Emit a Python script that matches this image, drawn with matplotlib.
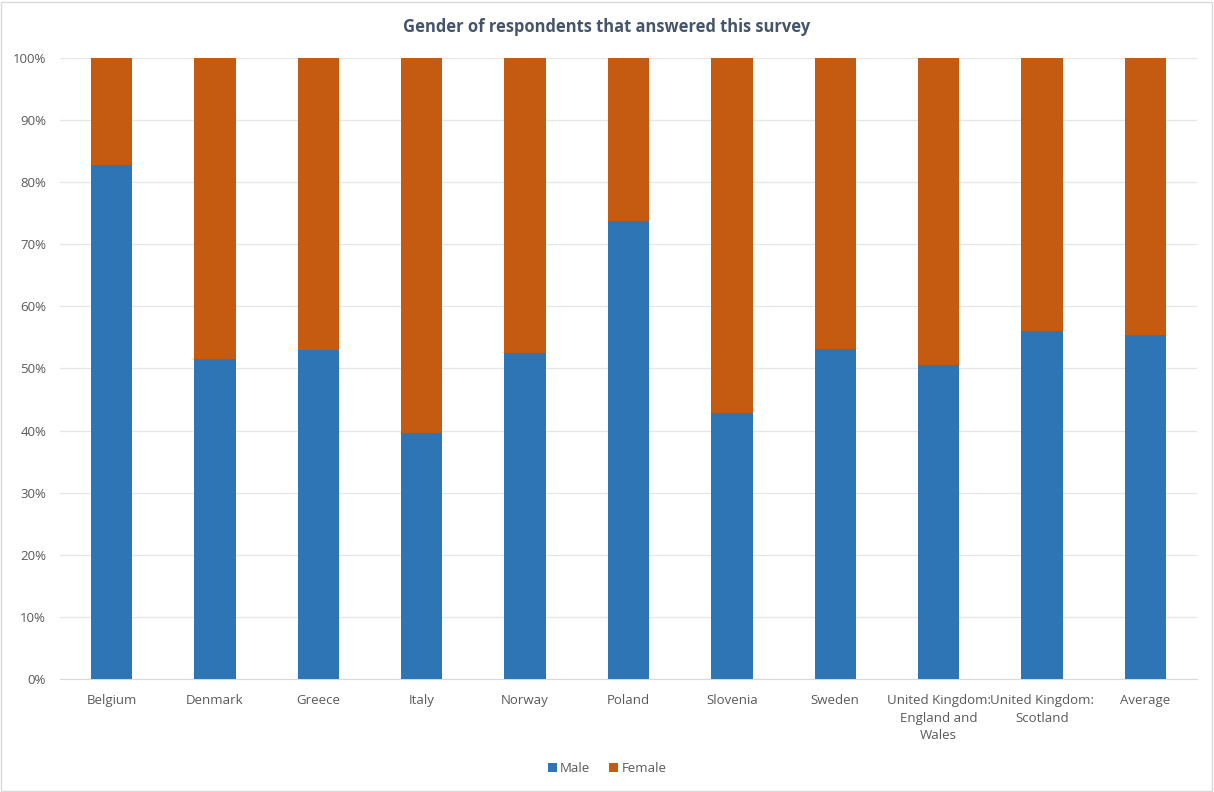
import matplotlib
matplotlib.use("Agg")
import matplotlib.pyplot as plt
from matplotlib.patches import Rectangle
from matplotlib.ticker import FuncFormatter, MultipleLocator
import numpy as np

categories = ["Belgium", "Denmark", "Greece", "Italy", "Norway", "Poland", "Slovenia",
              "Sweden", "United Kingdom:\nEngland and\nWales", "United Kingdom:\nScotland", "Average"]
male = [82.8, 51.6, 52.9, 39.6, 52.5, 73.7, 42.8, 53.2, 50.6, 56.0, 55.4]
female = [100 - m for m in male]

plt.rcParams['font.family'] = ['Open Sans', 'DejaVu Sans']
fig = plt.figure(figsize=(12.14, 7.92), dpi=100)
ax = fig.add_axes([0.0494, 0.1427, 0.9366, 0.7841])

x = np.arange(len(categories))
ax.bar(x, male, width=0.4, color="#2E75B6", label="Male", zorder=3)
ax.bar(x, female, width=0.4, bottom=male, color="#C55A11", label="Female", zorder=3)

ax.set_xlim(-0.5, len(categories) - 0.5)
ax.set_ylim(0, 100)
ax.yaxis.set_major_locator(MultipleLocator(10))
ax.yaxis.set_major_formatter(FuncFormatter(lambda v, p: f"{int(v)}%"))
ax.grid(axis="y", color="#E6E6E6", linewidth=0.9, zorder=0)
for s in ["top", "right", "left"]:
    ax.spines[s].set_visible(False)
ax.spines["bottom"].set_color("#D9D9D9")
ax.tick_params(axis="both", length=0, colors="#595959", labelsize=9.5)
ax.tick_params(axis="y", pad=10)
ax.set_xticks(x)
ax.set_xticklabels(categories, linespacing=1.45)
ax.tick_params(axis="x", pad=11)

fig.text(0.5, 0.966, "Gender of respondents that answered this survey", ha="center", va="center",
         fontsize=11.9, fontweight="bold", color="#44546A")

leg = fig.legend(loc="center", bbox_to_anchor=(0.5, 0.03), ncol=2, frameon=False,
                 fontsize=9.5, handlelength=0.7, handleheight=0.7, handletextpad=0.25, columnspacing=1.4)
for t in leg.get_texts():
    t.set_color("#595959")

fig.patches.append(Rectangle((0.001, 0.001), 0.997, 0.997, transform=fig.transFigure,
                             fill=False, edgecolor="#D9D9D9", linewidth=1))

fig.savefig("out.png", dpi=100)
